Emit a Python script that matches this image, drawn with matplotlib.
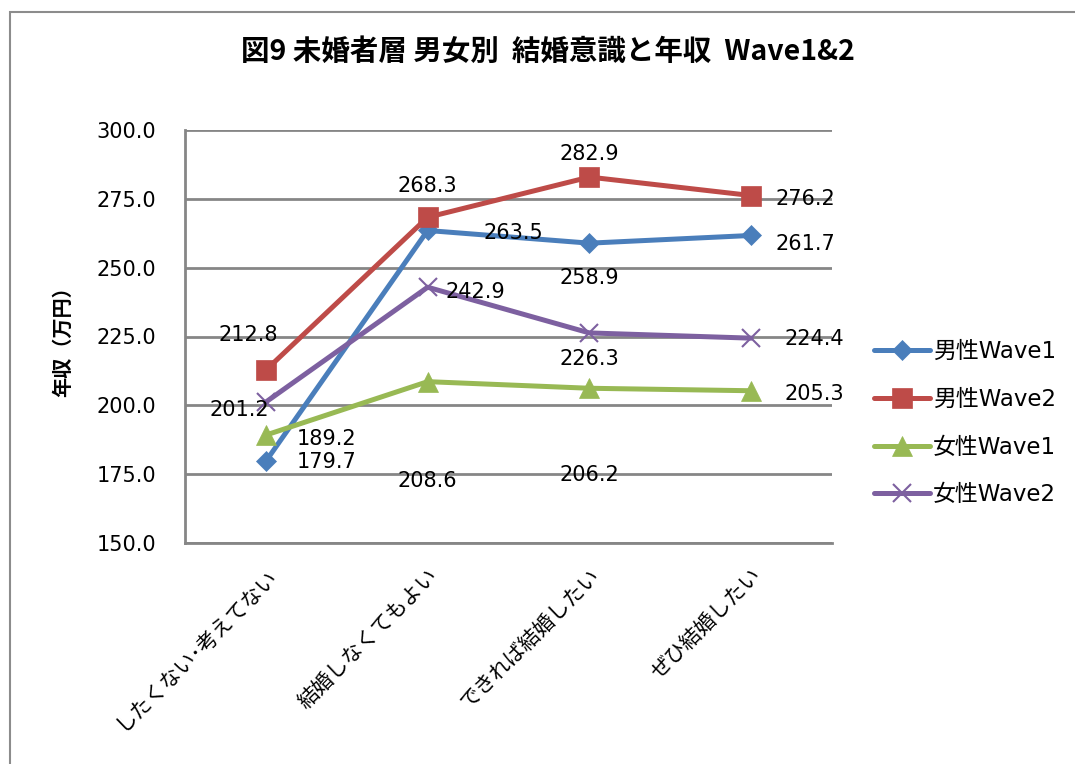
import matplotlib.pyplot as plt
from matplotlib.patches import Rectangle

plt.rcParams['font.family'] = ['DejaVu Sans', 'Noto Sans CJK JP']

# categories and series
categories = ["したくない･考えてない", "結婚しなくてもよい", "できれば結婚したい", "ぜひ結婚したい"]
male_w1 = [179.7, 263.5, 258.9, 261.7]
male_w2 = [212.8, 268.3, 282.9, 276.2]
female_w1 = [189.2, 208.6, 206.2, 205.3]
female_w2 = [201.2, 242.9, 226.3, 224.4]
series_names = ["男性Wave1", "男性Wave2", "女性Wave1", "女性Wave2"]
y_ticks = [150, 175, 200, 225, 250, 275, 300]

# label offsets (pixels) relative to each point, as Excel placed them
male_w1_off = [(61, -1), (86, -3), (0, -35), (54, -9)]
male_w2_off = [(-18, 35), (0, 31), (0, 23), (54, -3)]
female_w1_off = [(61, -4), (0, -99), (0, -87), (63, -3)]
female_w2_off = [(-27, -8), (48, -5), (0, -26), (63, -1)]

styles = [
    (male_w1, "#4A7EBB", "D", 10, male_w1_off),
    (male_w2, "#BE4B48", "s", 14, male_w2_off),
    (female_w1, "#98B954", "^", 14, female_w1_off),
    (female_w2, "#7D60A0", "x", 13, female_w2_off),
]

fig = plt.figure(figsize=(10.75, 7.64), dpi=100)
ax = fig.add_axes([185 / 1075, 1 - 543 / 764, 647 / 1075, 413 / 764])

x = list(range(len(categories)))
for (vals, color, marker, ms, offs), name in zip(styles, series_names):
    ax.plot(x, vals, color=color, lw=3.6, marker=marker, markersize=ms,
            markeredgewidth=1.5 if marker == "x" else 0.5, markeredgecolor=color,
            label=name, solid_capstyle="round", zorder=3)
    for xi, v, (dx, dy) in zip(x, vals, offs):
        ax.annotate(f"{v:.1f}", (xi, v), xytext=(dx, dy), textcoords="offset pixels",
                    ha="center", va="center", fontsize=15, color="black", zorder=4)

ax.set_xlim(-0.5, 3.5)
ax.set_ylim(150, 300)
ax.set_yticks(y_ticks)
ax.set_yticklabels([f"{t:.1f}" for t in y_ticks], fontsize=15)
ax.set_xticks(x)
ax.set_xticklabels(categories, rotation=45, ha="right", rotation_mode="anchor", fontsize=15)
ax.tick_params(axis="both", length=0)
ax.tick_params(axis="y", pad=21)
ax.tick_params(axis="x", pad=16)
ax.grid(axis="y", color="#868686", lw=2)
ax.set_axisbelow(True)
for s in ["top", "right"]:
    ax.spines[s].set_visible(False)
for s in ["left", "bottom"]:
    ax.spines[s].set_color("#868686")
    ax.spines[s].set_linewidth(2)

ax.set_ylabel("年収（万円）", fontsize=14.5, fontweight="bold", family=["Noto Sans CJK JP"])
ax.yaxis.set_label_coords(-0.173, 0.5)

fig.text(548 / 1075, 1 - 52 / 764, "図9 未婚者層 男女別  結婚意識と年収  Wave1&2",
         ha="center", va="center", fontsize=20.5, fontweight="bold", family=["Noto Sans CJK JP"])

ax.legend(loc="center left", bbox_to_anchor=(1.05, 0.29), frameon=False, fontsize=16.5,
          handlelength=2.45, labelspacing=1.08, handletextpad=0.15, borderaxespad=0)

# outer chart border
fig.patches.append(Rectangle((10 / 1075, -0.05), 1.1, 1 - 12 / 764 + 0.05,
                             transform=fig.transFigure, fill=False,
                             edgecolor="#8C8C8C", lw=1.5))

fig.savefig("out.png", dpi=100)
